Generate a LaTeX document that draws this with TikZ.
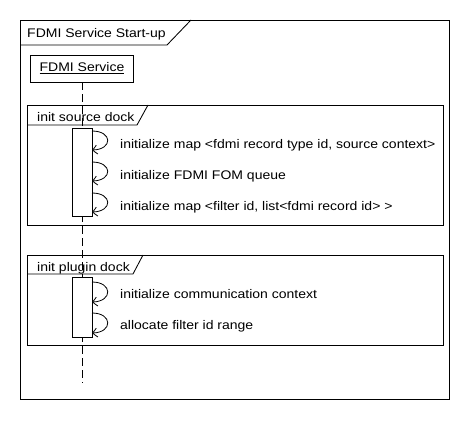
\documentclass[tikz,border=0pt]{standalone}
\usepackage{fontspec}
\setmainfont{Liberation Sans}[FakeStretch=1.12]
\usetikzlibrary{arrows.meta,bending}
\begin{document}
\begin{tikzpicture}[x=1pt,y=-1pt,
  every node/.style={font=\fontsize{12.5}{15}\selectfont, inner sep=0pt},
  frm/.style={draw, line width=0.85pt},
  lifebox/.style={draw, line width=0.85pt, minimum width=103pt, minimum height=27pt},
  act/.style={draw, fill=white, line width=0.85pt, minimum width=20pt},
  lifeline/.style={line width=0.85pt, dash pattern=on 8pt off 4pt},
  msg/.style={line width=0.8pt, -{Straight Barb[length=4.5pt,width=9pt,bend]}},
  lbl/.style={anchor=base west},
]
\useasboundingbox (0,0) rectangle (470,420);
% outer frame
\draw[frm] (20,20) rectangle (449,399);
\draw[frm] (20,45) -- (167,45) -- (191,20);
\node[lbl] (title) at (27,37.5) {FDMI Service Start-up};
% lifeline head
\node[lifebox] (fs) at (82,68.5) {\underline{FDMI Service}};
% combined fragments
\draw[frm] (27,105) rectangle (443,225);
\draw[frm] (27,125) -- (137,125) -- (148,105);
\node[lbl] (srct) at (37,121.5) {init source dock};
\draw[frm] (27,255) rectangle (443,345);
\draw[frm] (27,274) -- (133,274) -- (143,255);
\node[lbl] (plgt) at (37,271.5) {init plugin dock};
% lifeline
\coordinate (llend) at (82,383);
\draw[lifeline] (fs.south) -- (llend);
% activations
\node[act, minimum height=88pt] (a1) at (82,172) {};
\node[act, minimum height=60pt] (a2) at (82,307) {};
% self messages
\coordinate (s1a) at (92,131); \coordinate (s1b) at (92,150);
\coordinate (s2a) at (92,162); \coordinate (s2b) at (92,181);
\coordinate (s3a) at (92,193); \coordinate (s3b) at (92,212);
\coordinate (p1a) at (92,282); \coordinate (p1b) at (92,302);
\coordinate (p2a) at (92,313); \coordinate (p2b) at (92,333);
\foreach \a/\b in {s1a/s1b,s2a/s2b,s3a/s3b,p1a/p1b,p2a/p2b}
  \draw[msg] (\a) .. controls +(21,0) and +(21,0) .. (\b);
\node[lbl] (t1) at (120,148) {initialize map <fdmi record type id, source context>};
\node[lbl] (t2) at (120,179) {initialize FDMI FOM queue};
\node[lbl] (t3) at (120,210) {initialize map <filter id, list<fdmi record id> >};
\node[lbl] (t4) at (120,298) {initialize communication context};
\node[lbl] (t5) at (120,329) {allocate filter id range};
\end{tikzpicture}
\end{document}
